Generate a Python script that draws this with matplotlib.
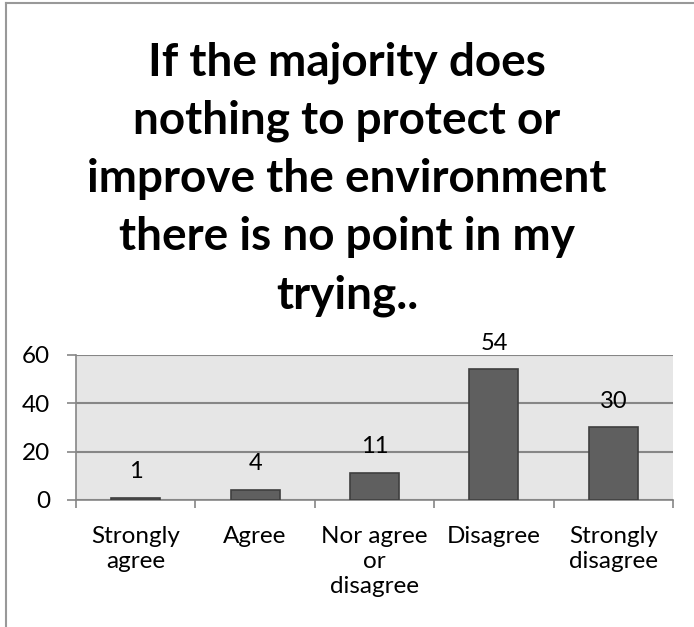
import matplotlib
matplotlib.use("Agg")
import matplotlib.pyplot as plt
from matplotlib.lines import Line2D

# survey answers and response counts
categories = ["Strongly\nagree", "Agree", "Nor agree\nor\ndisagree", "Disagree", "Strongly\ndisagree"]
counts = [1, 4, 11, 54, 30]
y_ticks = [0, 20, 40, 60]
title = ("If the majority does\nnothing to protect or\nimprove the environment\n"
         "there is no point in my\ntrying..")

plt.rcParams["font.family"] = ["Lato", "DejaVu Sans"]

fig = plt.figure(figsize=(6.94, 6.27), dpi=100)
ax = fig.add_axes([0.1095, 0.2026, 0.8602, 0.2313])

grey = "#868686"
x = list(range(len(categories)))
ax.set_facecolor("#e6e6e6")
ax.bar(x, counts, width=0.41, color="#5f5f5f", edgecolor="#3f3f3f", linewidth=1.2, zorder=3)

for xi, v in zip(x, counts):
  ax.annotate(str(v), (xi, v), xytext=(0, 19), textcoords="offset points",
              ha="center", va="center", fontsize=17, color="black", zorder=4)

ax.set_xlim(-0.5, len(categories) - 0.5)
ax.set_ylim(0, 60)
ax.set_yticks(y_ticks)
ax.yaxis.grid(True, color=grey, linewidth=1.5, zorder=1)
ax.set_axisbelow(True)

ax.set_xticks(x)
ax.set_xticklabels(categories, fontsize=17.5, linespacing=1.25, va="top")
ax.set_xticks([i - 0.5 for i in range(len(categories) + 1)], minor=True)
ax.tick_params(axis="x", which="major", length=0, pad=18.5)
ax.tick_params(axis="x", which="minor", length=6, width=1.2, color=grey, direction="out")
ax.tick_params(axis="y", length=6.5, width=1.2, color=grey, pad=12, labelsize=17.5)

for side in ["top", "right"]:
  ax.spines[side].set_visible(False)
for side in ["left", "bottom"]:
  ax.spines[side].set_color(grey)
  ax.spines[side].set_linewidth(1.2)

fig.text(0.5, 0.7145, title, ha="center", va="center", multialignment="center",
         fontsize=33, fontweight="bold", linespacing=1.47)

# outer frame, only the top and left edges fall inside the canvas
fig.add_artist(Line2D([6 / 694, 6 / 694], [0, 1 - 3 / 627], transform=fig.transFigure, color="#999999", linewidth=1.5))
fig.add_artist(Line2D([6 / 694, 1], [1 - 3 / 627, 1 - 3 / 627], transform=fig.transFigure, color="#999999", linewidth=1.5))

fig.savefig("out.png", dpi=100)
